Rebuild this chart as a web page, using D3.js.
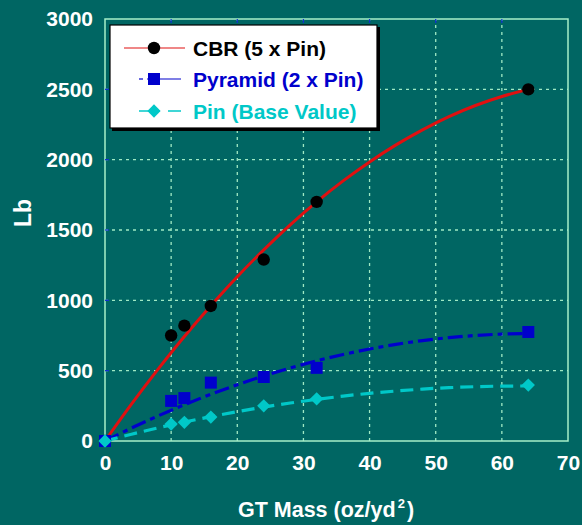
<!DOCTYPE html>
<html>
<head>
<meta charset="utf-8">
<script src="https://cdn.jsdelivr.net/npm/d3@7"></script>
<style>
html,body{margin:0;padding:0;background:#006663;}
svg{display:block;}
text{font-family:"Liberation Sans",Arial,sans-serif;font-weight:bold;}
</style>
</head>
<body>
<svg id="chart" width="582" height="525"></svg>
<script>
// ---- data ----
const gtMass = [0, 10, 12, 16, 24, 32, 64];
const cbrValues = [0, 750, 820, 960, 1290, 1700, 2500];
const pyramidValues = [0, 285, 305, 415, 455, 520, 775];
const pinValues = [0, 120, 133, 170, 250, 300, 398];

// fitted trend curves as seen in the picture
const fitX = [0, 4, 8, 12, 16, 20, 24, 28, 32, 36, 40, 44, 48, 52, 56, 60, 64];
const cbrFit = [0, 262, 509, 743, 962, 1168, 1359, 1537, 1700, 1849, 1984, 2105, 2212, 2306, 2385, 2449, 2500];
const pyramidFit = [0, 92, 178, 258, 332, 400, 463, 519, 570, 615, 654, 687, 714, 735, 750, 760, 763];
const pinFit = [0, 48, 93, 135, 173, 209, 241, 270, 296, 319, 339, 355, 369, 379, 386, 390, 391];

const xTicks = [0, 10, 20, 30, 40, 50, 60, 70];
const yTicks = [0, 500, 1000, 1500, 2000, 2500, 3000];
const seriesNames = ["CBR (5 x Pin)", "Pyramid (2 x Pin)", "Pin (Base Value)"];

const svg = d3.select("#chart");
const x = d3.scaleLinear().domain([0, 70]).range([105, 568]);
const y = d3.scaleLinear().domain([0, 3000]).range([441, 19]);

const gridColor = "#9fe9c4";
// grid
svg.append("g").selectAll("line").data(xTicks.slice(1, -1)).join("line")
  .attr("x1", d => x(d)).attr("x2", d => x(d)).attr("y1", y(0)).attr("y2", y(3000))
  .attr("stroke", gridColor).attr("stroke-width", 1.3).attr("stroke-dasharray", "3,4");
svg.append("g").selectAll("line").data(yTicks.slice(1, -1)).join("line")
  .attr("x1", x(0)).attr("x2", x(70)).attr("y1", d => y(d)).attr("y2", d => y(d))
  .attr("stroke", gridColor).attr("stroke-width", 1.3).attr("stroke-dasharray", "3,4");

// frame
svg.append("rect").attr("x", x(0)).attr("y", y(3000)).attr("width", x(70) - x(0)).attr("height", y(0) - y(3000))
  .attr("fill", "none").attr("stroke", "#a6efc9").attr("stroke-width", 1.5);

// blue inner ticks top & left
svg.append("g").selectAll("line").data(xTicks.slice(1, -1)).join("line")
  .attr("x1", d => x(d)).attr("x2", d => x(d)).attr("y1", y(3000)).attr("y2", y(3000) + 4)
  .attr("stroke", "#1030d0").attr("stroke-width", 1.3);
svg.append("g").selectAll("line").data(yTicks.slice(1, -1)).join("line")
  .attr("x1", x(0)).attr("x2", x(0) + 4).attr("y1", d => y(d)).attr("y2", d => y(d))
  .attr("stroke", "#1030d0").attr("stroke-width", 1.3);

// axes labels (using d3 axes for positioning)
const xAxis = svg.append("g").attr("transform", `translate(0,${y(0)})`)
  .call(d3.axisBottom(x).tickValues(xTicks).tickFormat(d3.format("d")).tickSize(0).tickPadding(14));
xAxis.select(".domain").remove();
xAxis.selectAll("text").attr("fill", "#ffffff").attr("font-size", 21)
  .style("font-family", '"Liberation Sans",Arial,sans-serif').style("font-weight", "bold");

const yAxis = svg.append("g").attr("transform", `translate(${x(0)},0)`)
  .call(d3.axisLeft(y).tickValues(yTicks).tickFormat(d3.format("d")).tickSize(0).tickPadding(12));
yAxis.select(".domain").remove();
yAxis.selectAll("text").attr("fill", "#ffffff").attr("font-size", 21)
  .style("font-family", '"Liberation Sans",Arial,sans-serif').style("font-weight", "bold");

// axis titles
const xt = svg.append("text").attr("x", 326).attr("y", 517).attr("text-anchor", "middle")
  .attr("fill", "#fff").attr("font-size", 21.5);
xt.append("tspan").text("GT Mass (oz/yd");
xt.append("tspan").attr("dx", 2).attr("dy", -9).attr("font-size", 13).text("2");
xt.append("tspan").attr("dx", 2).attr("dy", 9).text(")");
svg.append("text").attr("transform", "translate(31,213) rotate(-90)").attr("text-anchor", "middle")
  .attr("fill", "#fff").attr("font-size", 23).text("Lb");

// fit lines
const line = d3.line().x(d => x(d[0])).y(d => y(d[1])).curve(d3.curveMonotoneX);
const zip = (a, b) => a.map((v, i) => [v, b[i]]);
svg.append("path").attr("d", line(zip(fitX, cbrFit))).attr("fill", "none")
  .attr("stroke", "#e01010").attr("stroke-width", 3);
svg.append("path").attr("d", line(zip(fitX, pyramidFit))).attr("fill", "none")
  .attr("stroke", "#0000cc").attr("stroke-width", 3.2).attr("stroke-dasharray", "15,5,5,5");
svg.append("path").attr("d", line(zip(fitX, pinFit))).attr("fill", "none")
  .attr("stroke", "#00c8c8").attr("stroke-width", 3.2).attr("stroke-dasharray", "13,7");

// markers
const diamond = d3.symbol().type(d3.symbolSquare).size(88);
svg.append("g").selectAll("circle").data(zip(gtMass, cbrValues)).join("circle")
  .attr("cx", d => x(d[0])).attr("cy", d => y(d[1])).attr("r", 6.2).attr("fill", "#000");
svg.append("g").selectAll("rect").data(zip(gtMass, pyramidValues)).join("rect")
  .attr("x", d => x(d[0]) - 6).attr("y", d => y(d[1]) - 6).attr("width", 12).attr("height", 12).attr("fill", "#0000cc");
svg.append("g").selectAll("path").data(zip(gtMass, pinValues)).join("path")
  .attr("d", diamond).attr("transform", d => `translate(${x(d[0])},${y(d[1])}) rotate(45)`).attr("fill", "#00c8c8");

// legend
const lg = svg.append("g");
lg.append("rect").attr("x", 112).attr("y", 27).attr("width", 268).attr("height", 104).attr("fill", "#000");
lg.append("rect").attr("x", 110).attr("y", 25).attr("width", 267).attr("height", 103)
  .attr("fill", "#fff").attr("stroke", "#000").attr("stroke-width", 1.2);
const rowsY = [48, 79, 111];
const colors = ["#000000", "#0000cc", "#00c8c8"];
// CBR
lg.append("line").attr("x1", 124).attr("x2", 185).attr("y1", rowsY[0]).attr("y2", rowsY[0]).attr("stroke", "#e01010").attr("stroke-width", 1.2);
lg.append("circle").attr("cx", 154).attr("cy", rowsY[0]).attr("r", 6.2).attr("fill", "#000");
// Pyramid
lg.append("line").attr("x1", 139).attr("x2", 143).attr("y1", rowsY[1]).attr("y2", rowsY[1]).attr("stroke", "#0000cc").attr("stroke-width", 1.2);
lg.append("line").attr("x1", 147).attr("x2", 181).attr("y1", rowsY[1]).attr("y2", rowsY[1]).attr("stroke", "#0000cc").attr("stroke-width", 1.2);
lg.append("rect").attr("x", 148).attr("y", rowsY[1] - 6).attr("width", 12).attr("height", 12).attr("fill", "#0000cc");
// Pin
lg.append("line").attr("x1", 139).attr("x2", 160).attr("y1", rowsY[2]).attr("y2", rowsY[2]).attr("stroke", "#00c8c8").attr("stroke-width", 1.5);
lg.append("line").attr("x1", 168).attr("x2", 181).attr("y1", rowsY[2]).attr("y2", rowsY[2]).attr("stroke", "#00c8c8").attr("stroke-width", 1.5);
lg.append("path").attr("d", diamond).attr("transform", `translate(154,${rowsY[2]}) rotate(45)`).attr("fill", "#00c8c8");
lg.selectAll("text.lbl").data(seriesNames).join("text").attr("class", "lbl")
  .attr("x", 193).attr("y", (d, i) => rowsY[i] + 7.5).attr("font-size", 21)
  .attr("fill", (d, i) => colors[i]).text(d => d);
</script>
</body>
</html>
